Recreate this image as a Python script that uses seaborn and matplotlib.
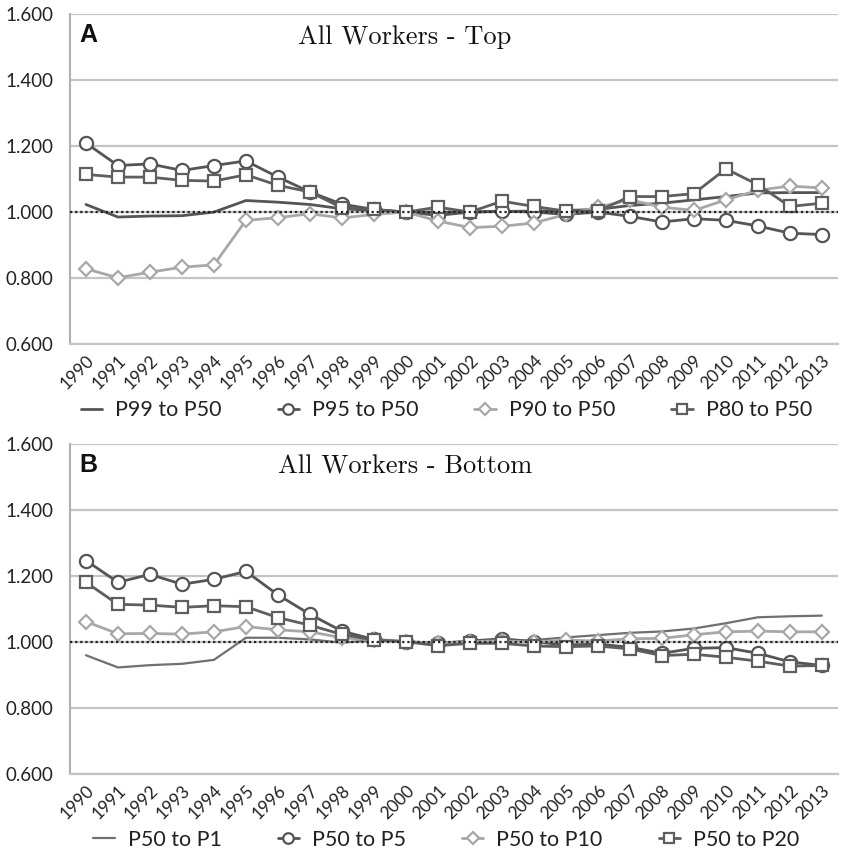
import matplotlib
matplotlib.use("Agg")
import matplotlib.pyplot as plt
import seaborn as sns
import numpy as np
import pandas as pd
import matplotlib.font_manager as fm

sns.set_style("white")
avail = {f.name for f in fm.fontManager.ttflist}
sans = [f for f in ["Liberation Sans Narrow", "Lato", "DejaVu Sans"] if f in avail]
plt.rcParams['font.family'] = sans

years = list(range(1990, 2014))
year_labels = [str(y) for y in years]
y_ticks = [0.6, 0.8, 1.0, 1.2, 1.4, 1.6]
y_tick_labels = ["0.600", "0.800", "1.000", "1.200", "1.400", "1.600"]

# Panel A: All Workers - Top
top_names = ["P99 to P50", "P95 to P50", "P90 to P50", "P80 to P50"]
p99_p50 = [1.023, 0.985, 0.988, 0.989, 1.000, 1.035, 1.030, 1.023, 1.010, 1.005, 1.000, 1.000,
           1.000, 1.002, 1.003, 1.005, 1.008, 1.020, 1.027, 1.037, 1.047, 1.058, 1.059, 1.059]
p95_p50 = [1.209, 1.141, 1.146, 1.126, 1.141, 1.155, 1.106, 1.061, 1.024, 1.008, 1.000, 0.990,
           1.000, 1.003, 1.000, 0.993, 1.000, 0.987, 0.970, 0.980, 0.975, 0.958, 0.936, 0.932]
p90_p50 = [0.828, 0.801, 0.818, 0.833, 0.840, 0.975, 0.983, 0.995, 0.982, 0.993, 1.000, 0.973,
           0.953, 0.957, 0.967, 0.993, 1.015, 1.037, 1.015, 1.005, 1.037, 1.066, 1.079, 1.073]
p80_p50 = [1.114, 1.106, 1.106, 1.096, 1.094, 1.113, 1.081, 1.061, 1.013, 1.008, 1.000, 1.015,
           1.000, 1.033, 1.017, 1.003, 1.003, 1.047, 1.047, 1.056, 1.131, 1.083, 1.017, 1.027]

# Panel B: All Workers - Bottom
bot_names = ["P50 to P1", "P50 to P5", "P50 to P10", "P50 to P20"]
p50_p1 = [0.959, 0.922, 0.929, 0.933, 0.945, 1.012, 1.012, 1.007, 0.997, 1.005, 1.000, 0.997,
          1.000, 1.000, 1.005, 1.013, 1.020, 1.027, 1.031, 1.040, 1.056, 1.074, 1.077, 1.079]
p50_p5 = [1.246, 1.180, 1.204, 1.174, 1.189, 1.213, 1.142, 1.083, 1.032, 1.007, 1.000, 0.995,
          1.002, 1.009, 1.000, 0.990, 0.993, 0.983, 0.965, 0.980, 0.982, 0.965, 0.939, 0.928]
p50_p10 = [1.061, 1.024, 1.025, 1.023, 1.030, 1.046, 1.036, 1.030, 1.012, 1.005, 1.000, 0.995,
           1.000, 1.003, 0.998, 1.005, 1.002, 1.009, 1.010, 1.021, 1.030, 1.032, 1.030, 1.030]
p50_p20 = [1.180, 1.113, 1.111, 1.104, 1.109, 1.106, 1.073, 1.050, 1.022, 1.005, 1.000, 0.988,
           0.995, 0.995, 0.987, 0.985, 0.987, 0.978, 0.958, 0.962, 0.953, 0.941, 0.926, 0.928]

fig = plt.figure(figsize=(8.42, 8.56), dpi=100)
ax_top = fig.add_axes([0.0831, 0.598, 0.912, 0.3856])
ax_bot = fig.add_axes([0.0831, 0.0961, 0.912, 0.3856])

def style_specs(first_color, first_lw):
    return [
        dict(color=first_color, lw=first_lw, marker=None),
        dict(color="#555555", lw=2.0, marker="o", ms=9.5),
        dict(color="#a8a8a8", lw=2.0, marker="D", ms=7.5),
        dict(color="#5e5e5e", lw=2.0, marker="s", ms=9),
    ]

def draw(ax, names, series, title, letter, first_color, first_lw):
    specs = style_specs(first_color, first_lw)
    for name, vals, sp in zip(names, series, specs):
        df = pd.DataFrame({"year": years, "value": vals})
        kw = dict(color=sp["color"], linewidth=sp["lw"], label=name, zorder=3)
        if sp["marker"]:
            kw.update(marker=sp["marker"], markersize=sp["ms"], markerfacecolor="white",
                      markeredgecolor=sp["color"], markeredgewidth=1.6)
        sns.lineplot(data=df, x="year", y="value", ax=ax, **kw)
    ax.axhline(1.0, color="#222222", linestyle=(0, (1, 1.3)), linewidth=1.6, zorder=4)
    ax.set_xlim(1989.5, 2013.5)
    ax.set_ylim(0.6, 1.6)
    ax.set_yticks(y_ticks)
    ax.set_yticklabels(y_tick_labels, fontsize=13.5, color="#222222")
    ax.set_xticks(years)
    ax.set_xticklabels(year_labels, rotation=45, ha="right", va="top",
                       rotation_mode="anchor", fontsize=12.5, color="#222222")
    ax.set_xticks(np.arange(1989.5, 2014, 1.0), minor=True)
    ax.tick_params(axis="x", which="major", length=0, pad=6)
    ax.tick_params(axis="x", which="minor", length=4, color="#aaaaaa", width=1)
    ax.tick_params(axis="y", length=0, pad=12)
    ax.grid(axis="y", color="#c4c4c4", linewidth=1.6)
    ax.set_axisbelow(True)
    for s in ["top", "right"]:
        ax.spines[s].set_visible(False)
    ax.spines["left"].set_color("#b0b0b0")
    ax.spines["left"].set_linewidth(1.5)
    ax.spines["bottom"].set_color("#c4c4c4")
    ax.spines["bottom"].set_linewidth(1.6)
    ax.set_xlabel("")
    ax.set_ylabel("")
    ax.text(0.436, 0.93, title, transform=ax.transAxes, ha="center", va="center",
            fontsize=19, family=["cmr10", "DejaVu Serif"], color="#111111")
    ax.text(0.012, 0.935, letter, transform=ax.transAxes, ha="left", va="center",
            fontsize=18, fontweight="bold", family=["Liberation Sans", "DejaVu Sans"], color="#111111")
    leg = ax.legend(loc="center", bbox_to_anchor=(0.49, -0.2), ncol=4, frameon=False,
                    fontsize=15.5, handlelength=1.0, columnspacing=2.6, handletextpad=0.6,
                    markerscale=0.8)
    for t in leg.get_texts():
        t.set_color("#222222")

draw(ax_top, top_names, [p99_p50, p95_p50, p90_p50, p80_p50],
     "All Workers - Top", "A", "#555555", 2.0)
draw(ax_bot, bot_names, [p50_p1, p50_p5, p50_p10, p50_p20],
     "All Workers - Bottom", "B", "#707070", 1.6)

fig.savefig("out.png", dpi=100)
